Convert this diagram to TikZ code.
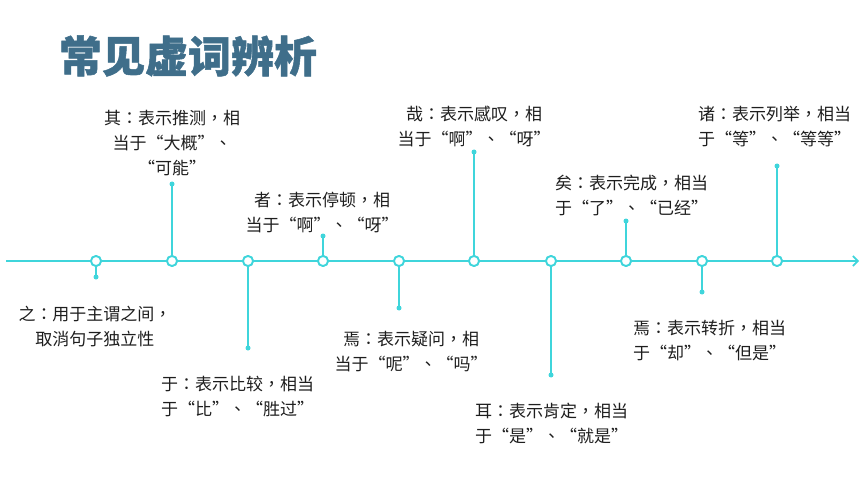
\documentclass[tikz,border=0pt]{standalone}
\usepackage{fontspec}
\newfontfamily\cjk{Noto Sans CJK TC}
\newfontfamily\cjkt[BoldFeatures={FakeBold=1.2}]{Noto Sans CJK SC}
\usetikzlibrary{arrows.meta}
\definecolor{tl}{HTML}{3FD5DB}
\definecolor{tt}{HTML}{3F6E8A}
\definecolor{tx}{HTML}{1E1E1E}
\begin{document}
\begin{tikzpicture}[x=1pt,y=-1pt,
  axis/.style={draw=tl,line width=1.8pt},
  stem/.style={draw=tl,line width=1.6pt},
  pt/.style={circle,draw=tl,fill=white,line width=1.8pt,minimum size=10pt,inner sep=0pt},
  dotp/.style={circle,fill=tl,minimum size=5pt,inner sep=0pt},
  lbl/.style={font=\cjk\fontsize{17}{25}\selectfont,text=tx,inner sep=0pt},
  lblc/.style={lbl,align=center},
  lbll/.style={lbl,align=left,anchor=west},
  ttl/.style={font=\cjkt\bfseries\fontsize{43}{43}\selectfont,text=tt,inner sep=0pt}]
\useasboundingbox (0,0) rectangle (860,484);
\node[ttl] (title) at (188,56) {常见虚词辨析};
\coordinate (s) at (6,261);
\coordinate (e) at (859,261);
\draw[axis,-{Straight Barb[length=5pt,width=10pt,line width=1.6pt]}] (s) -- (e);
% points
\node[pt] (p1) at (96,261) {};
\node[pt] (p2) at (172,261) {};
\node[pt] (p3) at (248,261) {};
\node[pt] (p4) at (323,261) {};
\node[pt] (p5) at (399,261) {};
\node[pt] (p6) at (474,261) {};
\node[pt] (p7) at (551,261) {};
\node[pt] (p8) at (626,261) {};
\node[pt] (p9) at (702,261) {};
\node[pt] (p10) at (777,261) {};
% dots
\node[dotp] (d1) at (96,277) {};
\node[dotp] (d2) at (172,184) {};
\node[dotp] (d3) at (248,348) {};
\node[dotp] (d4) at (323,236) {};
\node[dotp] (d5) at (399,308) {};
\node[dotp] (d6) at (474,152) {};
\node[dotp] (d7) at (551,375) {};
\node[dotp] (d8) at (626,221) {};
\node[dotp] (d9) at (702,292) {};
\node[dotp] (d10) at (777,166) {};
\foreach \i in {1,...,10} \draw[stem] (p\i) -- (d\i.center);
\foreach \i in {1,...,10} \node[pt] at (p\i) {};
% labels
\node[lblc] (l1) at (95,326.5) {之：用于主谓之间，\\取消句子独立性};
\node[lblc] (l2) at (172,143.5) {其：表示推测，相\\当于“大概”、\\“可能”};
\node[lbll] (l3) at (161,396.5) {于：表示比较，相当\\于“比”、“胜过”};
\node[lblc] (l4) at (322,212.5) {者：表示停顿，相\\当于“啊”、“呀”};
\node[lblc] (l5) at (411,351.5) {焉：表示疑问，相\\当于“呢”、“吗”};
\node[lblc] (l6) at (474,126.5) {哉：表示感叹，相\\当于“啊”、“呀”};
\node[lbll] (l7) at (475,423) {耳：表示肯定，相当\\于“是”、“就是”};
\node[lbll] (l8) at (555,195) {矣：表示完成，相当\\于“了”、“已经”};
\node[lbll] (l9) at (633,340.5) {焉：表示转折，相当\\于“却”、“但是”};
\node[lbll] (l10) at (698,126.5) {诸：表示列举，相当\\于“等”、“等等”};
\end{tikzpicture}
\end{document}
